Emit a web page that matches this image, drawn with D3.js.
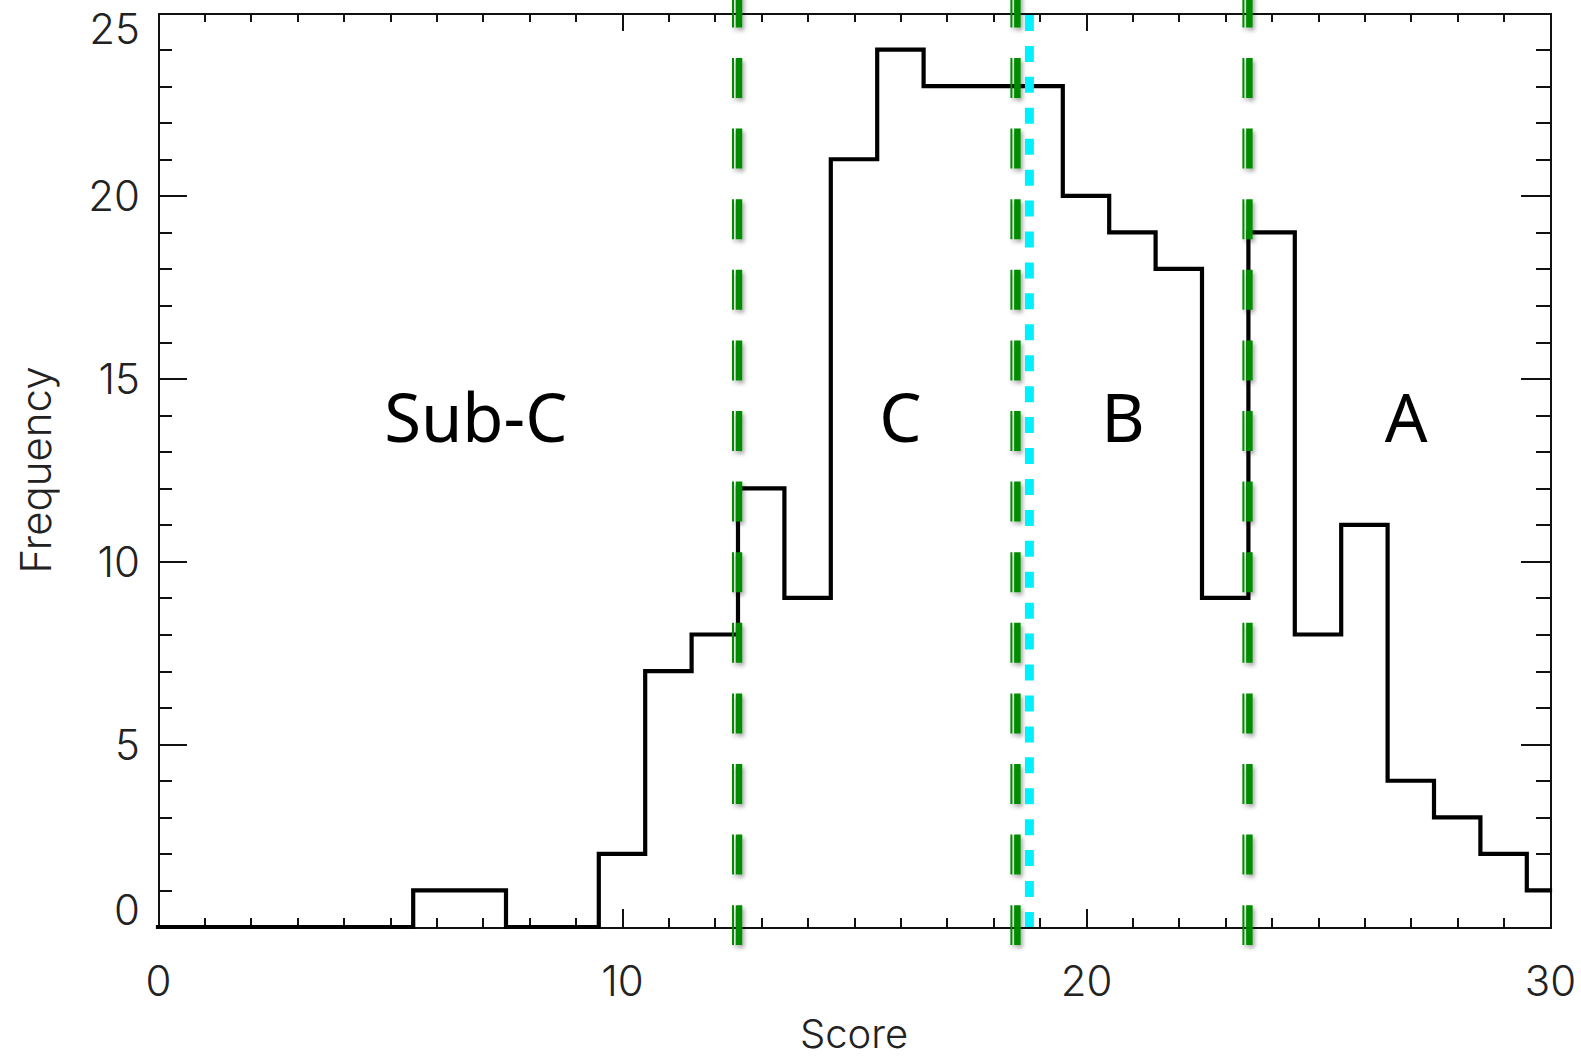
<html>
<head>
  <style>
    body {
      margin: 0;
      background: #ffffff;
    }

    .axis path,
    .axis line {
      stroke: #111;
      stroke-width: 2px;
      shape-rendering: crispEdges;
    }

    .axis text,
    .title {
      font-family: Inter, "DejaVu Sans", sans-serif;
      font-weight: 300;
      font-size: 42px;
      fill: #222;
    }

    .grade {
      font-family: "Noto Sans", "DejaVu Sans", sans-serif;
      font-size: 67px;
      fill: #000;
    }
  </style>
</head>

<body>
  <div id="chart"></div>

  <script src="https://d3js.org/d3.v7.min.js"></script>
  <script>
    // histogram bins (score) and counts
    var binScore = [0, 1, 2, 3, 4, 5, 6, 7, 8, 9, 10, 11, 12, 13, 14, 15, 16, 17, 18, 19, 20, 21, 22, 23, 24, 25, 26, 27, 28, 29, 30];
    var binCount = [0, 0, 0, 0, 0, 0, 1, 1, 0, 0, 2, 7, 8, 12, 9, 21, 24, 23, 23, 23, 20, 19, 18, 9, 19, 8, 11, 4, 3, 2, 1];

    // grade boundaries (green) and the mean score (cyan)
    var gradeCuts = [12.5, 18.5, 23.5];
    var meanScore = 18.78;

    var gradeNames = ["Sub-C", "C", "B", "A"];
    var gradeLabelX = [6.85, 16, 20.8, 26.9];
    var gradeLabelY = 13.27;

    var xTicks = [0, 10, 20, 30];
    var xMinor = [1, 2, 3, 4, 5, 6, 7, 8, 9, 11, 12, 13, 14, 15, 16, 17, 18, 19, 21, 22, 23, 24, 25, 26, 27, 28, 29];
    var yTicks = [0, 5, 10, 15, 20, 25];
    var yMinor = [1, 2, 3, 4, 6, 7, 8, 9, 11, 12, 13, 14, 16, 17, 18, 19, 21, 22, 23, 24];

    var width = 1581,
        height = 1058,
        margin = { top: 13, right: 31, bottom: 131, left: 158 };

    var svg = d3.select("#chart")
      .append("svg")
      .attr("width", width)
      .attr("height", height);

    var defs = svg.append("defs");
    defs.append("filter")
      .attr("id", "shade")
      .attr("x", "-100%").attr("y", "-10%")
      .attr("width", "300%").attr("height", "120%")
      .append("feDropShadow")
      .attr("dx", 2).attr("dy", 3)
      .attr("stdDeviation", 2)
      .attr("flood-color", "#000")
      .attr("flood-opacity", 0.35);

    var x = d3.scaleLinear()
      .domain([0, 30])
      .range([margin.left, width - margin.right]);

    var y = d3.scaleLinear()
      .domain([0, 25])
      .range([height - margin.bottom, margin.top]);

    // axes on four sides, ticks pointing in
    function minorAxis(axis, vals, len) {
      return axis.tickValues(vals).tickSize(-len).tickFormat("");
    }

    var bottom = height - margin.bottom,
        right = width - margin.right;

    svg.append("g").attr("class", "axis")
      .attr("transform", "translate(0," + bottom + ")")
      .call(minorAxis(d3.axisBottom(x), xMinor, 9));
    svg.append("g").attr("class", "axis x-major")
      .attr("transform", "translate(0," + bottom + ")")
      .call(d3.axisBottom(x).tickValues(xTicks).tickSize(-18).tickPadding(39).tickSizeOuter(0));

    svg.append("g").attr("class", "axis")
      .attr("transform", "translate(0," + margin.top + ")")
      .call(minorAxis(d3.axisTop(x), xMinor, 9));
    svg.append("g").attr("class", "axis")
      .attr("transform", "translate(0," + margin.top + ")")
      .call(minorAxis(d3.axisTop(x), xTicks, 18).tickSizeOuter(0));

    svg.append("g").attr("class", "axis")
      .attr("transform", "translate(" + margin.left + ",0)")
      .call(minorAxis(d3.axisLeft(y), yMinor, 14));
    var yMajor = svg.append("g").attr("class", "axis y-major")
      .attr("transform", "translate(" + margin.left + ",0)")
      .call(d3.axisLeft(y).tickValues(yTicks).tickSize(-29).tickPadding(18).tickSizeOuter(0));

    svg.append("g").attr("class", "axis")
      .attr("transform", "translate(" + right + ",0)")
      .call(minorAxis(d3.axisRight(y), yMinor, 14));
    svg.append("g").attr("class", "axis")
      .attr("transform", "translate(" + right + ",0)")
      .call(minorAxis(d3.axisRight(y), yTicks, 29).tickSizeOuter(0));

    // IDL pulls the end labels inside the axis range
    yMajor.selectAll(".tick text")
      .attr("dy", function (d) {
        if (d === 25) return "0.71em";
        if (d === 0) return "-0.05em";
        return "0.36em";
      })
      .attr("y", function (d) { return d === 25 ? 1 : 0; });

    d3.selectAll(".axis text").style("font-size", "42px");

    // histogram
    var line = d3.line()
      .x(function (d, i) { return x(binScore[i]); })
      .y(function (d) { return y(d); })
      .curve(d3.curveStep);

    svg.append("path")
      .datum(binCount)
      .attr("d", line)
      .attr("fill", "none")
      .attr("stroke", "#000")
      .attr("stroke-width", 4.2)
      .attr("stroke-linejoin", "miter")
      .attr("stroke-linecap", "square");

    // green grade boundaries (double line, dashed)
    var cuts = svg.append("g").attr("filter", "url(#shade)");
    gradeCuts.forEach(function (c) {
      [[-5, 2], [1, 6.5]].forEach(function (s) {
        cuts.append("line")
          .attr("x1", x(c) + s[0]).attr("x2", x(c) + s[0])
          .attr("y1", y(25.7)).attr("y2", y(-0.49))
          .attr("stroke", "#008c00")
          .attr("stroke-width", s[1])
          .attr("stroke-dasharray", "40 30.6");
      });
    });

    // cyan mean line
    svg.append("line")
      .attr("x1", x(meanScore)).attr("x2", x(meanScore))
      .attr("y1", y(25)).attr("y2", y(0))
      .attr("stroke", "#00f0ff")
      .attr("stroke-width", 9)
      .attr("stroke-dasharray", "16 14.93")
      .attr("stroke-dashoffset", -2);

    // grade labels
    svg.selectAll(".grade")
      .data(gradeNames)
      .enter().append("text")
      .attr("class", "grade")
      .attr("x", function (d, i) { return x(gradeLabelX[i]); })
      .attr("y", y(gradeLabelY))
      .attr("text-anchor", "middle")
      .text(function (d) { return d; });

    // axis titles
    svg.append("text")
      .attr("class", "title")
      .attr("x", x(15))
      .attr("y", 1048)
      .attr("text-anchor", "middle")
      .style("font-size", "40px")
      .text("Score");

    svg.append("text")
      .attr("class", "title")
      .attr("transform", "translate(51," + y(12.5) + ") rotate(-90)")
      .attr("text-anchor", "middle")
      .text("Frequency");
  </script>
</body>
</html>
